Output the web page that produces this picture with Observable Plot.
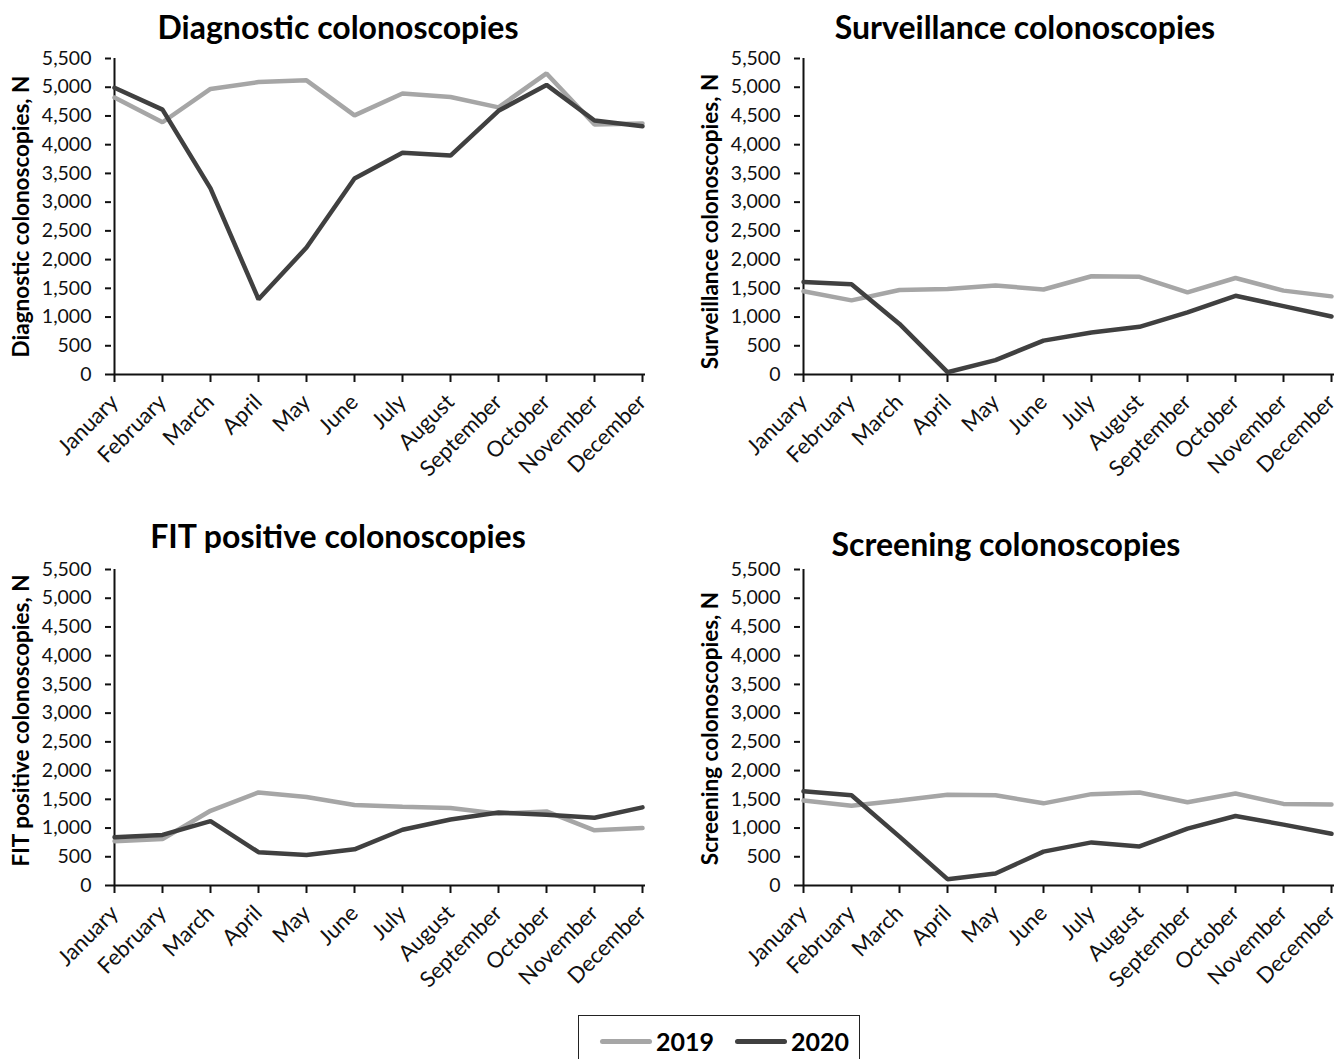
<!DOCTYPE html>
<html>
<head>
<meta charset="utf-8">
<script src="https://cdn.jsdelivr.net/npm/d3@7"></script>
<script src="https://cdn.jsdelivr.net/npm/@observablehq/plot@0.6"></script>
<style>
  body { margin: 0; background: white; }
  #root { position: relative; width: 1336px; height: 1059px; overflow: hidden; background: white; font-family: Lato, "Open Sans", sans-serif; }
  .title { position: absolute; font-weight: bold; font-size: 32px; color: #000; text-align: center; white-space: nowrap; transform: translateX(-50%); line-height: 1; }
  .panel { position: absolute; width: 668px; height: 440px; }
  .panel svg { overflow: visible; max-width: none !important; font-variant-numeric: tabular-nums; }
  #legend { position: absolute; left: 578px; top: 1015px; width: 282px; height: 70px; border: 1.5px solid #222; box-sizing: border-box; }
  .lg { position: absolute; top: 10px; font-weight: bold; font-size: 25px; color: #000; display: flex; align-items: center; }
  .sw { display: inline-block; width: 52px; height: 5px; border-radius: 3px; margin-right: 4px; }
</style>
</head>
<body>
<div id="root"></div>
<script>
const months = ["January","February","March","April","May","June","July","August","September","October","November","December"];
const years = ["2019", "2020"];
const yTicks = [0,500,1000,1500,2000,2500,3000,3500,4000,4500,5000,5500];

const diagnostic2019 = [4820,4390,4970,5090,5120,4510,4890,4830,4650,5240,4350,4370];
const diagnostic2020 = [4990,4610,3240,1310,2210,3410,3860,3810,4590,5040,4420,4320];
const surveillance2019 = [1450,1290,1470,1490,1550,1480,1710,1700,1430,1680,1460,1360];
const surveillance2020 = [1610,1570,880,40,250,590,730,830,1080,1370,1190,1010];
const fit2019 = [770,810,1300,1620,1540,1400,1370,1350,1250,1290,960,1000];
const fit2020 = [840,880,1120,580,530,630,970,1150,1270,1230,1180,1360];
const screening2019 = [1480,1390,1480,1580,1570,1430,1590,1620,1450,1600,1420,1410];
const screening2020 = [1640,1570,850,110,210,590,750,680,990,1210,1060,900];

const colors = ["#a6a6a6", "#404040"];

const panels = [
  {title: "Diagnostic colonoscopies", ylabel: "Diagnostic colonoscopies, N", a: diagnostic2019, b: diagnostic2020, left: 0, top: 40, tx: 338, ty: 11, dy: 0},
  {title: "Surveillance colonoscopies", ylabel: "Surveillance colonoscopies, N", a: surveillance2019, b: surveillance2020, left: 689, top: 40, tx: 1025, ty: 11, dy: 5},
  {title: "FIT positive colonoscopies", ylabel: "FIT positive colonoscopies, N", a: fit2019, b: fit2020, left: 0, top: 551, tx: 338, ty: 520, dy: -7},
  {title: "Screening colonoscopies", ylabel: "Screening colonoscopies, N", a: screening2019, b: screening2020, left: 689, top: 551, tx: 1006, ty: 528, dy: 1}
];

const root = document.getElementById("root");
const fmt = d3.format(",");

for (const p of panels) {
  const rows = [];
  years.forEach((yr, k) => {
    const vals = k === 0 ? p.a : p.b;
    months.forEach((m, i) => rows.push({month: m, year: yr, value: vals[i]}));
  });
  const chart = Plot.plot({
    width: 668,
    height: 440,
    marginLeft: 111,
    marginRight: 23,
    marginTop: 18,
    marginBottom: 106,
    style: {fontFamily: "Lato, 'Open Sans', sans-serif", fontSize: "22px", color: "#111", background: "transparent"},
    x: {type: "point", domain: months, padding: 0, label: null},
    y: {domain: [0, 5500], label: null},
    color: {domain: years, range: colors},
    marks: [
      Plot.axisY({ticks: yTicks, tickFormat: fmt, tickSize: 6, tickPadding: 14, strokeWidth: 2, label: null, fontSize: 19.5}),
      Plot.axisX({tickSize: 8, tickRotate: -45, tickPadding: 16, strokeWidth: 2, label: null, fontSize: 22}),
      Plot.ruleY([0], {stroke: "#111", strokeWidth: 2}),
      Plot.ruleX([months[0]], {stroke: "#111", strokeWidth: 2}),
      Plot.lineY(rows, {x: "month", y: "value", z: "year", stroke: "year", strokeWidth: 4.5, strokeLinejoin: "miter"}),
      Plot.text([p.ylabel], {frameAnchor: "left", textAnchor: "middle", rotate: -90, dx: -90, dy: p.dy, fontWeight: "bold", fontSize: 22.5, fill: "#000"})
    ]
  });
  const holder = document.createElement("div");
  holder.className = "panel";
  holder.style.left = p.left + "px";
  holder.style.top = p.top + "px";
  holder.appendChild(chart);
  root.appendChild(holder);

  const t = document.createElement("div");
  t.className = "title";
  t.textContent = p.title;
  t.style.left = p.tx + "px";
  t.style.top = p.ty + "px";
  root.appendChild(t);
}

const legend = document.createElement("div");
legend.id = "legend";
years.forEach((yr, k) => {
  const item = document.createElement("div");
  item.className = "lg";
  item.style.left = (k === 0 ? 21 : 156) + "px";
  const sw = document.createElement("span");
  sw.className = "sw";
  sw.style.background = colors[k];
  item.appendChild(sw);
  item.appendChild(document.createTextNode(yr));
  legend.appendChild(item);
});
root.appendChild(legend);
</script>
</body>
</html>
